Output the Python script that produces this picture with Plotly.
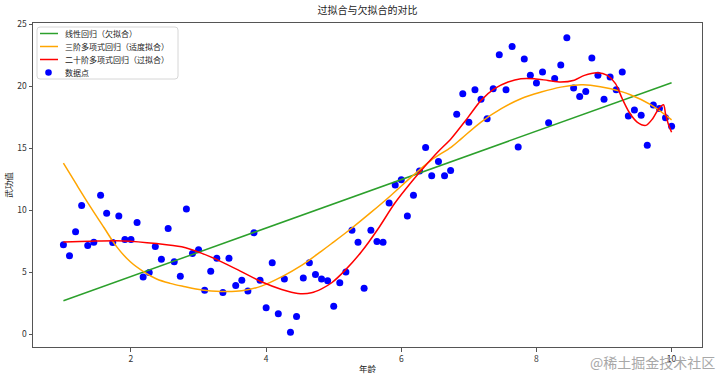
import plotly.graph_objects as go

# ---------------- data ----------------
age = [1.00, 1.09, 1.18, 1.27, 1.36, 1.45, 1.55, 1.64, 1.73, 1.82,
       1.91, 2.00, 2.09, 2.18, 2.27, 2.36, 2.45, 2.55, 2.64, 2.73,
       2.82, 2.91, 3.00, 3.09, 3.18, 3.27, 3.36, 3.45, 3.55, 3.64,
       3.73, 3.82, 3.91, 4.00, 4.09, 4.18, 4.27, 4.36, 4.45, 4.55,
       4.64, 4.73, 4.82, 4.91, 5.00, 5.09, 5.18, 5.27, 5.36, 5.45,
       5.55, 5.64, 5.73, 5.82, 5.91, 6.00, 6.09, 6.18, 6.27, 6.36,
       6.45, 6.55, 6.64, 6.73, 6.82, 6.91, 7.00, 7.09, 7.18, 7.27,
       7.36, 7.45, 7.55, 7.64, 7.73, 7.82, 7.91, 8.00, 8.09, 8.18,
       8.27, 8.36, 8.45, 8.55, 8.64, 8.73, 8.82, 8.91, 9.00, 9.09,
       9.18, 9.27, 9.36, 9.45, 9.55, 9.64, 9.73, 9.82, 9.91, 10.00]

skill = [7.21, 6.32, 8.25, 10.37, 7.15, 7.42, 11.20, 9.75, 7.40, 9.54,
         7.64, 7.64, 9.00, 4.61, 4.96, 7.07, 6.03, 8.52, 5.84, 4.66,
         10.10, 6.51, 6.80, 3.54, 5.06, 6.11, 3.35, 6.11, 3.91, 4.34,
         3.48, 8.17, 4.34, 2.12, 5.76, 1.63, 4.45, 0.14, 1.42, 4.53,
         5.76, 4.80, 4.45, 4.31, 2.25, 4.13, 5.01, 8.39, 7.42, 3.70,
         8.39, 7.48, 7.42, 10.58, 12.03, 12.46, 9.54, 11.20, 13.16, 15.06,
         12.78, 13.93, 12.78, 13.21, 17.74, 19.40, 17.10, 19.72, 18.97, 17.39,
         19.80, 22.56, 19.72, 23.23, 15.11, 22.21, 20.90, 20.28, 21.17, 17.07,
         20.63, 21.73, 23.93, 19.86, 19.19, 19.59, 22.29, 20.90, 18.97, 20.76,
         19.72, 21.17, 17.60, 18.09, 17.66, 15.25, 18.49, 18.22, 17.47, 16.78]

linear_x = [1.0, 10.0]
linear_y = [2.69, 20.30]

cubic_x = [1.00, 1.20, 1.40, 1.60, 1.79, 1.99, 2.19, 2.38, 2.58, 2.78,
           3.05, 3.34, 3.64, 3.93, 4.23, 4.53, 4.82, 4.97, 5.26, 5.56,
           5.85, 6.15, 6.44, 6.74, 6.89, 7.18, 7.48, 7.77, 8.07, 8.36,
           8.66, 8.80, 9.10, 9.39, 9.69, 10.00]
cubic_y = [13.81, 12.02, 10.27, 8.60, 7.04, 5.83, 5.02, 4.44, 4.09, 3.84,
           3.55, 3.44, 3.49, 3.87, 4.62, 5.56, 6.70, 7.31, 8.52, 9.86,
           11.21, 12.69, 14.03, 15.10, 15.78, 17.12, 18.20, 19.00, 19.54, 19.94,
           20.13, 20.10, 19.81, 19.33, 18.52, 17.30]

poly20_x = [1.00, 1.40, 1.89, 2.38, 2.75, 3.05, 3.34, 3.64, 3.93, 4.23,
            4.47, 4.67, 4.82, 4.97, 5.16, 5.41, 5.66, 5.90, 6.15, 6.34,
            6.54, 6.74, 6.99, 7.18, 7.38, 7.58, 7.77, 7.97, 8.17, 8.36,
            8.56, 8.71, 8.90, 9.05, 9.17, 9.27, 9.37, 9.49, 9.62, 9.72,
            9.81, 9.88, 9.91, 9.95, 10.00]
poly20_y = [7.44, 7.50, 7.52, 7.31, 7.04, 6.51, 5.83, 5.02, 4.22, 3.60,
            3.28, 3.33, 3.65, 4.14, 5.10, 6.64, 8.52, 10.54, 12.28, 13.49,
            14.70, 15.80, 17.52, 18.87, 19.81, 20.35, 20.62, 20.62, 20.48, 20.35,
            20.50, 20.89, 21.10, 20.89, 20.22, 19.00, 17.93, 17.12, 16.85, 17.39,
            18.20, 18.52, 17.80, 16.99, 16.30]

x_ticks = [2, 4, 6, 8, 10]
y_ticks = [0, 5, 10, 15, 20, 25]

names = ["线性回归（欠拟合）", "三阶多项式回归（适度拟合）", "二十阶多项式回归（过拟合）", "数据点"]
colors = ["#2ca02c", "#ffa500", "#ff0000", "#0000ff"]

FONT = "Noto Sans CJK SC"
W, H = 720, 377
ML, MR, MT, MB = 33, 18, 23, 30
PW, PH = W - ML - MR, H - MT - MB


def px_to_paper(px, py):
    return (px - ML) / PW, (H - MB - py) / PH


fig = go.Figure()
fig.add_trace(go.Scatter(x=age, y=skill, mode="markers", name=names[3],
                         marker=dict(color=colors[3], size=7)))
fig.add_trace(go.Scatter(x=linear_x, y=linear_y, mode="lines", name=names[0],
                         line=dict(color=colors[0], width=1.5)))
fig.add_trace(go.Scatter(x=cubic_x, y=cubic_y, mode="lines", name=names[1],
                         line=dict(color=colors[1], width=1.5, shape="spline", smoothing=1)))
fig.add_trace(go.Scatter(x=poly20_x, y=poly20_y, mode="lines", name=names[2],
                         line=dict(color=colors[2], width=1.5, shape="spline", smoothing=0.8)))

axis_common = dict(showline=True, mirror=True, linecolor="#555555", linewidth=1,
                   ticks="outside", ticklen=3.5, tickcolor="#555555", showgrid=False,
                   zeroline=False, automargin=False,
                   tickfont=dict(family=FONT, size=8.5, color="#333333"))

fig.update_layout(
    width=W, height=H,
    margin=dict(l=ML, r=MR, t=MT, b=MB),
    paper_bgcolor="white", plot_bgcolor="white",
    font=dict(family=FONT, color="#222222"),
    showlegend=False,
    title=dict(text="过拟合与欠拟合的对比", x=0.5, xref="paper", xanchor="center",
               y=1 - 10 / H, yref="container", yanchor="middle",
               font=dict(family=FONT, size=10, color="#222222")),
    xaxis=dict(range=[0.55, 10.45], tickvals=x_ticks,
               title=dict(text="年龄", standoff=3, font=dict(family=FONT, size=8.5)),
               **axis_common),
    yaxis=dict(range=[-1.05, 25.12], tickvals=y_ticks,
               title=dict(text="武功值", standoff=3, font=dict(family=FONT, size=8.5)),
               **axis_common),
)

# ---- hand-made legend (matplotlib style, compact rows) ----
bx0, by0 = px_to_paper(37, 27)
bx1, by1 = px_to_paper(178, 79)
r = 3 / PW
rv = 3 / PH
path = (f"M {bx0 + r},{by0} L {bx1 - r},{by0} Q {bx1},{by0} {bx1},{by0 - rv} "
        f"L {bx1},{by1 + rv} Q {bx1},{by1} {bx1 - r},{by1} "
        f"L {bx0 + r},{by1} Q {bx0},{by1} {bx0},{by1 + rv} "
        f"L {bx0},{by0 - rv} Q {bx0},{by0} {bx0 + r},{by0} Z")
fig.add_shape(type="path", path=path, xref="paper", yref="paper",
              line=dict(color="#d6d6d6", width=1), fillcolor="rgba(255,255,255,0.85)",
              layer="above")

row_y = [33.5, 46.5, 59.5, 72.5]
for i, name in enumerate(names):
    lx0, ly = px_to_paper(40, row_y[i])
    lx1, _ = px_to_paper(58, row_y[i])
    if i < 3:
        fig.add_shape(type="line", xref="paper", yref="paper", x0=lx0, x1=lx1, y0=ly, y1=ly,
                      line=dict(color=colors[i], width=1.5), layer="above")
    else:
        cx, cy = px_to_paper(48.5, row_y[i])
        fig.add_shape(type="circle", xref="paper", yref="paper",
                      x0=cx - 3.3 / PW, x1=cx + 3.3 / PW, y0=cy - 3.3 / PH, y1=cy + 3.3 / PH,
                      fillcolor=colors[3], line=dict(color=colors[3], width=0), layer="above")
    tx, ty = px_to_paper(63, row_y[i])
    fig.add_annotation(text=name, xref="paper", yref="paper", x=tx, y=ty,
                       xanchor="left", yanchor="middle", showarrow=False,
                       font=dict(family=FONT, size=8, color="#222222"))

wx, wy = px_to_paper(717, 362)
fig.add_annotation(text="@稀土掘金技术社区", xref="paper", yref="paper",
                   x=wx, y=wy, xanchor="right", yanchor="middle", showarrow=False,
                   font=dict(family=FONT, size=14, color="#a8a8a8"))

fig.write_html("out.html",
               config={"displayModeBar": False},
               post_script="document.body.style.margin='0';document.body.style.overflow='hidden';")
